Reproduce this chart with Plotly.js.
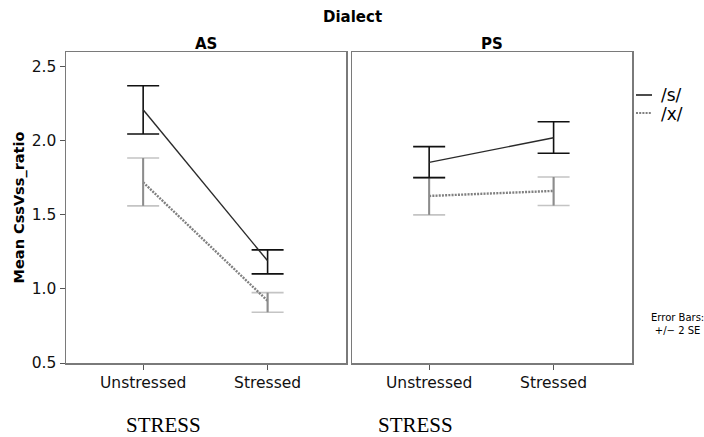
<!DOCTYPE html>
<html>
<head>
<meta charset="utf-8">
<script src="https://cdn.plot.ly/plotly-3.0.1.min.js"></script>
<style>html,body{margin:0;padding:0;background:#fff;}#chart{width:704px;height:437px;}</style>
</head>
<body>
<div id="chart"></div>
<script>
// Categories
const categories = ['Unstressed', 'Stressed'];
const dialects = ['AS', 'PS'];

// /s/ means and +/- 2 SE bounds
const sMeanAS = [2.21, 1.19];
const sUpperAS = [2.372, 1.264];
const sLowerAS = [2.046, 1.102];
const sMeanPS = [1.855, 2.021];
const sUpperPS = [1.961, 2.129];
const sLowerPS = [1.752, 1.916];

// /x/ means and +/- 2 SE bounds
const xMeanAS = [1.72, 0.92];
const xUpperAS = [1.884, 0.975];
const xLowerAS = [1.561, 0.843];
const xMeanPS = [1.628, 1.662];
const xUpperPS = [1.752, 1.756];
const xLowerPS = [1.500, 1.563];

const yTicks = [0.5, 1.0, 1.5, 2.0, 2.5];

function errs(mean, upper, lower) {
  return {
    plus: upper.map((u, i) => u - mean[i]),
    minus: mean.map((m, i) => m - lower[i])
  };
}

const FONT = 'DejaVu Sans, sans-serif';
const traces = [];

function addPanel(xa, ya, sMean, sUp, sLo, xMean, xUp, xLo) {
  const se = errs(sMean, sUp, sLo);
  const xe = errs(xMean, xUp, xLo);
  // /x/ caps (light gray)
  traces.push({
    x: categories, y: xMean, xaxis: xa, yaxis: ya, type: 'scatter', mode: 'lines',
    line: {color: '#808080', width: 2.4, dash: '2px,1.2px'}, showlegend: false, hoverinfo: 'skip',
    error_y: {type: 'data', symmetric: false, array: xe.plus, arrayminus: xe.minus,
      color: '#c4c4c4', thickness: 1.6, width: 16}
  });
  // /x/ stems (darker gray)
  traces.push({
    x: categories, y: xMean, xaxis: xa, yaxis: ya, type: 'scatter', mode: 'markers',
    marker: {size: 0.1, opacity: 0}, showlegend: false, hoverinfo: 'skip',
    error_y: {type: 'data', symmetric: false, array: xe.plus, arrayminus: xe.minus,
      color: '#8c8c8c', thickness: 2, width: 0}
  });
  // /s/ line + error bars (black)
  traces.push({
    x: categories, y: sMean, xaxis: xa, yaxis: ya, type: 'scatter', mode: 'lines',
    line: {color: '#2a2a2a', width: 1.4}, showlegend: false, hoverinfo: 'skip',
    error_y: {type: 'data', symmetric: false, array: se.plus, arrayminus: se.minus,
      color: '#111111', thickness: 1.6, width: 16}
  });
}

addPanel('x', 'y', sMeanAS, sUpperAS, sLowerAS, xMeanAS, xUpperAS, xLowerAS);
addPanel('x2', 'y2', sMeanPS, sUpperPS, sLowerPS, xMeanPS, xUpperPS, xLowerPS);

const W = 704, H = 437;
const px = v => v / W;
const py = v => 1 - v / H;

const xAxisCommon = {
  type: 'category', range: [-0.62, 1.63], showgrid: false, zeroline: false,
  showline: true, linecolor: '#7a7a7a', linewidth: 1.5, mirror: true,
  ticks: 'outside', ticklen: 5, tickcolor: '#555', tickwidth: 1,
  tickfont: {family: FONT, size: 15.5, color: '#111'}, fixedrange: true
};
const yAxisCommon = {
  range: [0.5, 2.6], showgrid: false, zeroline: false,
  showline: true, linecolor: '#7a7a7a', linewidth: 1.5, mirror: true,
  tickvals: yTicks, tickformat: '.1f', fixedrange: true
};

const layout = {
  width: W, height: H,
  margin: {l: 0, r: 0, t: 0, b: 0},
  paper_bgcolor: '#ffffff', plot_bgcolor: '#ffffff',
  showlegend: false,
  xaxis: Object.assign({}, xAxisCommon, {domain: [px(66), px(346)], anchor: 'y'}),
  xaxis2: Object.assign({}, xAxisCommon, {domain: [px(352), px(632)], anchor: 'y2'}),
  yaxis: Object.assign({}, yAxisCommon, {
    domain: [py(363), py(52)], anchor: 'x',
    ticks: 'outside', ticklen: 5, tickcolor: '#555', tickwidth: 1,
    tickfont: {family: FONT, size: 15.5, color: '#111'},
    title: {text: 'Mean CssVss_ratio', font: {family: FONT, size: 14.5, color: '#000', weight: 'bold'}, standoff: 3}
  }),
  yaxis2: Object.assign({}, yAxisCommon, {
    domain: [py(363), py(52)], anchor: 'x2', showticklabels: false, ticks: ''
  }),
  shapes: [
    {type: 'line', xref: 'paper', yref: 'paper', x0: px(636), x1: px(652), y0: py(95), y1: py(95),
      line: {color: '#111', width: 1.5}},
    {type: 'line', xref: 'paper', yref: 'paper', x0: px(636), x1: px(652), y0: py(113), y1: py(113),
      line: {color: '#808080', width: 2.2, dash: '2px,1.2px'}}
  ],
  annotations: [
    {text: '<b>Dialect</b>', x: px(352), y: py(17), xref: 'paper', yref: 'paper', showarrow: false,
      font: {family: FONT, size: 15, color: '#000'}, xanchor: 'center', yanchor: 'middle'},
    {text: '<b>' + dialects[0] + '</b>', x: px(206), y: py(44), xref: 'paper', yref: 'paper', showarrow: false,
      font: {family: FONT, size: 15, color: '#000'}, xanchor: 'center', yanchor: 'middle'},
    {text: '<b>' + dialects[1] + '</b>', x: px(492), y: py(44), xref: 'paper', yref: 'paper', showarrow: false,
      font: {family: FONT, size: 15, color: '#000'}, xanchor: 'center', yanchor: 'middle'},
    {text: '/s/', x: px(659), y: py(95), xref: 'paper', yref: 'paper', showarrow: false,
      font: {family: FONT, size: 17, color: '#000'}, xanchor: 'left', yanchor: 'middle'},
    {text: '/x/', x: px(659), y: py(114), xref: 'paper', yref: 'paper', showarrow: false,
      font: {family: FONT, size: 17, color: '#000'}, xanchor: 'left', yanchor: 'middle'},
    {text: 'Error Bars:<br>+/\u2212 2 SE', x: px(677), y: py(324), xref: 'paper', yref: 'paper', showarrow: false,
      font: {family: FONT, size: 10, color: '#000'}, xanchor: 'center', yanchor: 'middle', align: 'center'},
    {text: 'STRESS', x: px(163), y: py(425), xref: 'paper', yref: 'paper', showarrow: false,
      font: {family: 'Liberation Serif, serif', size: 21, color: '#000'}, xanchor: 'center', yanchor: 'middle'},
    {text: 'STRESS', x: px(415), y: py(425), xref: 'paper', yref: 'paper', showarrow: false,
      font: {family: 'Liberation Serif, serif', size: 21, color: '#000'}, xanchor: 'center', yanchor: 'middle'}
  ]
};

Plotly.newPlot('chart', traces, layout, {staticPlot: true, displayModeBar: false});
</script>
</body>
</html>
